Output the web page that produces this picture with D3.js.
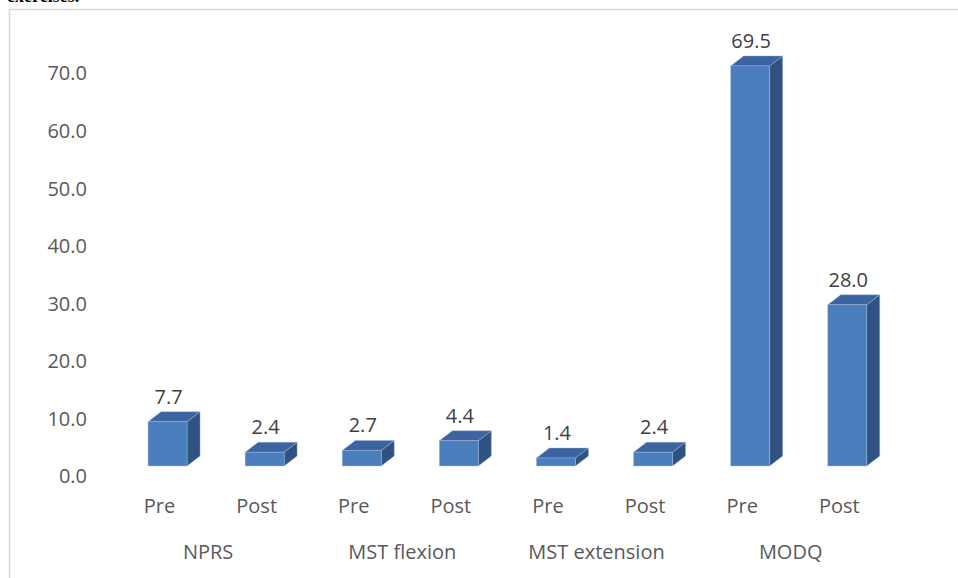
<!DOCTYPE html>
<html>
<head>
<meta charset="utf-8">
<script src="https://cdn.jsdelivr.net/npm/d3@7"></script>
<style>
  html, body { margin: 0; padding: 0; background: #fff; }
  svg { display: block; }
</style>
</head>
<body>
<svg id="chart" width="958" height="578"></svg>
<script>
// Outcome measures, before and after the exercise programme
const groups = ["NPRS", "MST flexion", "MST extension", "MODQ"];
const phases = ["Pre", "Post"];
const preValues = [7.7, 2.7, 1.4, 69.5];
const postValues = [2.4, 4.4, 2.4, 28.0];
const yTicks = [0, 10, 20, 30, 40, 50, 60, 70];

const rows = [];
groups.forEach((g, i) => {
  rows.push({ group: g, phase: "Pre", value: preValues[i] });
  rows.push({ group: g, phase: "Post", value: postValues[i] });
});

const svg = d3.select("#chart");
const font = "'Open Sans', sans-serif";
const textColor = "#595959";

// caption line from the page above the figure
svg.append("text")
  .attr("x", 7).attr("y", 2)
  .attr("font-family", "'Liberation Serif', serif")
  .attr("font-weight", "bold")
  .attr("font-size", 18)
  .attr("fill", "#000")
  .text("exercises.");

// chart frame
svg.append("path")
  .attr("d", "M9.5,578 V9.5 H958")
  .attr("fill", "none")
  .attr("stroke", "#d9d9d9")
  .attr("stroke-width", 1.5);

const x0 = d3.scaleBand().domain(groups).range([119, 895.8]);
const x1 = d3.scalePoint().domain(phases).range([0, x0.bandwidth()]).padding(0.5);
const y = d3.scaleLinear().domain([0, 70]).range([466, 63]);

const barW = 39;
const depthX = 13, depthY = -10;

// value axis (labels only)
const axis = svg.append("g")
  .attr("transform", "translate(87,10.5)")
  .call(d3.axisLeft(y).tickValues(yTicks).tickFormat(d3.format(".1f")).tickSize(0).tickPadding(0));
axis.select(".domain").remove();
axis.selectAll("text")
  .attr("font-family", font)
  .attr("font-size", 20)
  .attr("fill", textColor);

const cx = d => x0(d.group) + x1(d.phase);

const bars = svg.append("g").selectAll("g").data(rows).join("g");

// right side face
bars.append("path")
  .attr("d", d => {
    const r = cx(d) + barW / 2, t = y(d.value), b = y(0);
    return `M${r},${t} L${r + depthX},${t + depthY} L${r + depthX},${b + depthY} L${r},${b} Z`;
  })
  .attr("fill", "#2f5282")
  .attr("stroke", "#a9bcd8").attr("stroke-width", 0.6).attr("stroke-opacity", 0.7);

// top face
bars.append("path")
  .attr("d", d => {
    const l = cx(d) - barW / 2, r = cx(d) + barW / 2, t = y(d.value);
    return `M${l},${t} L${r},${t} L${r + depthX},${t + depthY} L${l + depthX},${t + depthY} Z`;
  })
  .attr("fill", "#3b64a0")
  .attr("stroke", "#a9bcd8").attr("stroke-width", 0.6).attr("stroke-opacity", 0.7);

// front face
bars.append("rect")
  .attr("x", d => cx(d) - barW / 2)
  .attr("y", d => y(d.value))
  .attr("width", barW)
  .attr("height", d => y(0) - y(d.value))
  .attr("fill", "#4a7ebd")
  .attr("stroke", "#a9bcd8").attr("stroke-width", 0.6).attr("stroke-opacity", 0.7);

// data labels
bars.append("text")
  .attr("x", d => cx(d) + 1)
  .attr("y", d => y(d.value) + depthY - 8)
  .attr("text-anchor", "middle")
  .attr("font-family", font)
  .attr("font-size", 20)
  .attr("fill", "#404040")
  .text(d => d3.format(".1f")(d.value));

// phase labels
svg.append("g").selectAll("text").data(rows).join("text")
  .attr("x", d => cx(d) - 8)
  .attr("y", 513)
  .attr("text-anchor", "middle")
  .attr("font-family", font)
  .attr("font-size", 20)
  .attr("fill", textColor)
  .text(d => d.phase);

// group labels
svg.append("g").selectAll("text").data(groups).join("text")
  .attr("x", g => x0(g) + x0.bandwidth() / 2 - 8)
  .attr("y", 559)
  .attr("text-anchor", "middle")
  .attr("font-family", font)
  .attr("font-size", 20)
  .attr("fill", textColor)
  .text(g => g);
</script>
</body>
</html>
